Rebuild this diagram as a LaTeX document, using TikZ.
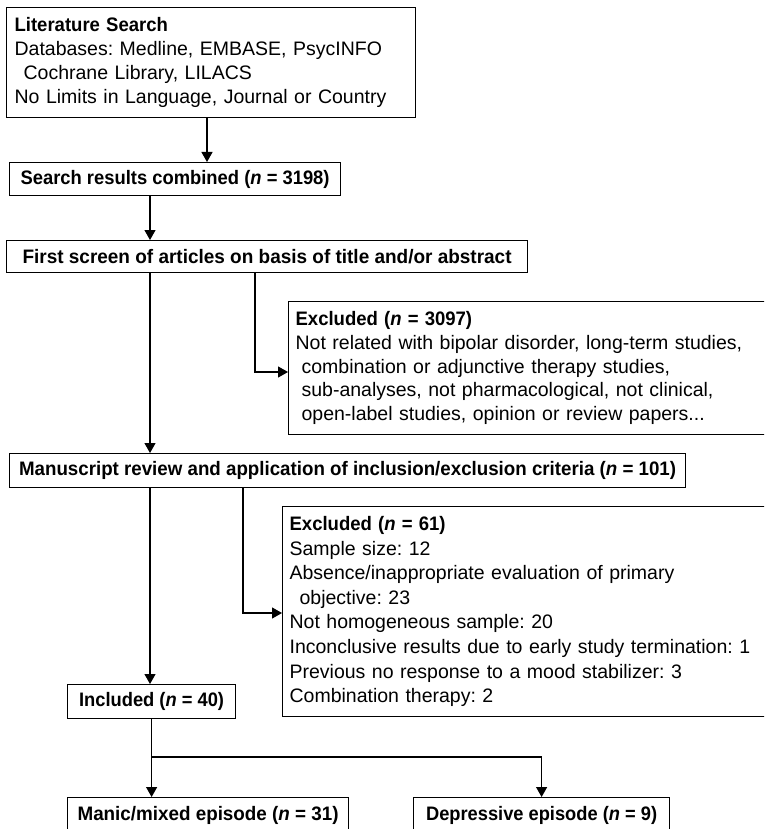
\documentclass[tikz,border=0pt]{standalone}
\usepackage{fontspec}
\usepackage{graphicx}
\setmainfont{Liberation Sans}
\usetikzlibrary{arrows.meta}
\frenchspacing
\newcommand{\nn}{\textbf{\textit{n}}}
\newcommand{\fitw}[2]{\resizebox{#1}{\height}{\textbf{#2}}}
\newcommand{\bhd}[1]{\scalebox{0.95}[1]{\textbf{#1}}}
\begin{document}
\begin{tikzpicture}[x=1pt,y=-1pt,
  box/.style={draw=black, line width=1.2pt, anchor=north west, inner xsep=8pt, inner ysep=0pt,
    font=\fontsize{19.5}{23.8}\selectfont\frenchspacing},
  leftbox/.style={box, align=left},
  midbox/.style={box, inner xsep=0pt},
  arr/.style={draw=black, line width=1.2pt, -{Triangle[length=10pt,width=11pt]}},
  con/.style={draw=black, line width=1.2pt}]
\useasboundingbox (0,0) rectangle (764,829);
\fill[white] (0,0) rectangle (764,829);
\clip (0,0) rectangle (764,829);

\node[leftbox, text width=393pt, minimum height=110pt] (b1) at (6,7)
  {\bhd{Literature Search}\\
   Databases: Medline, EMBASE, PsycINFO\\
   \hspace*{9pt}Cochrane Library, LILACS\\
   No Limits in Language, Journal or Country};
\node[midbox, minimum width=331pt, minimum height=33pt] (b2) at (9,162)
  {\fitw{309pt}{Search results combined (\nn{} = 3198)}};
\node[midbox, minimum width=521pt, minimum height=32pt] (b3) at (6,240)
  {\fitw{489pt}{First screen of articles on basis of title and/or abstract}};
\node[leftbox, inner xsep=7pt, text width=466pt, minimum height=133pt] (e1) at (288,301)
  {\bhd{Excluded (\nn{} = 3097)}\\
   Not related with bipolar disorder, long-term studies,\\
   \hspace*{6pt}combination or adjunctive therapy studies,\\
   \hspace*{6pt}sub-analyses, not pharmacological, not clinical,\\
   \hspace*{6pt}open-label studies, opinion or review papers...};
\node[midbox, minimum width=676pt, minimum height=34pt] (b4) at (9,453)
  {\fitw{657pt}{Manuscript review and application of inclusion/exclusion criteria (\nn{} = 101)}};
\node[leftbox, inner xsep=7pt, text width=472pt, minimum height=210pt,
  font=\fontsize{19.5}{24.6}\selectfont\frenchspacing] (e2) at (282,506)
  {\bhd{Excluded (\nn{} = 61)}\\
   Sample size: 12\\
   Absence/inappropriate evaluation of primary\\
   \hspace*{10pt}objective: 23\\
   Not homogeneous sample: 20\\
   Inconclusive results due to early study termination: 1\\
   Previous no response to a mood stabilizer: 3\\
   Combination therapy: 2};
\node[midbox, minimum width=168pt, minimum height=34pt] (inc) at (67,684)
  {\fitw{145pt}{Included (\nn{} = 40)}};
\node[midbox, minimum width=281pt, minimum height=35pt] (man) at (67,797)
  {\fitw{261pt}{Manic/mixed episode (\nn{} = 31)}};
\node[midbox, minimum width=256pt, minimum height=35pt] (dep) at (413,797)
  {\fitw{231pt}{Depressive episode (\nn{} = 9)}};

\coordinate (xa) at (207,0);
\coordinate (xb) at (150,0);
\coordinate (j1) at (255,372);
\coordinate (j2) at (243,613);
\coordinate (j3) at (151,757);

\draw[arr] (b1.south -| xa) -- (b2.north -| xa);
\draw[arr] (b2.south -| xb) -- (b3.north -| xb);
\draw[arr] (b3.south -| xb) -- (b4.north -| xb);
\draw[arr] (b3.south -| j1) -- (j1) -- (j1 -| e1.west);
\draw[arr] (b4.south -| xb) -- (inc.north -| xb);
\draw[arr] (b4.south -| j2) -- (j2) -- (j2 -| e2.west);
\draw[arr] (inc.south) -- (inc.south |- man.north);
\draw[arr] (j3) -| (dep.north);
\end{tikzpicture}
\end{document}
